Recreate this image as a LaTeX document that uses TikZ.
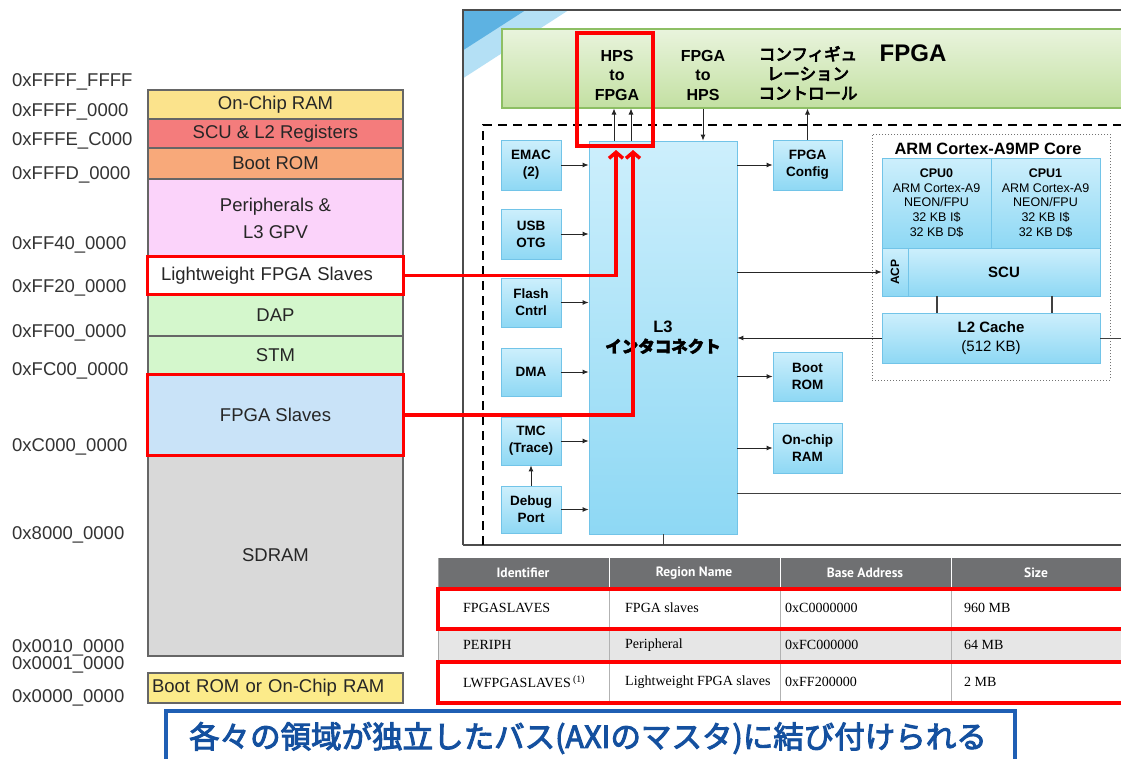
\documentclass[tikz,border=0pt]{standalone}
\usepackage{fontspec}
\setmainfont{Liberation Sans}
\newfontfamily\jpbold[FakeBold=2.6]{Noto Sans CJK JP}
\newfontfamily\jpheavy[FakeBold=3.2]{Noto Sans CJK JP}
\newfontfamily\jpbar[FakeBold=4.5]{Noto Sans CJK JP}
\newfontfamily\tabserif{Liberation Serif}
\newfontfamily\tabhead{PT Sans}
\usetikzlibrary{arrows.meta}
\definecolor{cOCR}{HTML}{FBE38C}
\definecolor{cSCU}{HTML}{F47C7C}
\definecolor{cBROM}{HTML}{F8A97A}
\definecolor{cPER}{HTML}{FBD3FA}
\definecolor{cDAP}{HTML}{D4F7CC}
\definecolor{cFS}{HTML}{C9E3F8}
\definecolor{cSD}{HTML}{D9D9D9}
\definecolor{cBS}{HTML}{FCEB8A}
\definecolor{boxtop}{HTML}{CDEFFC}
\definecolor{boxbot}{HTML}{8ED8F4}
\definecolor{boxedge}{HTML}{72C4E8}
\definecolor{barTop}{HTML}{E9F4DD}
\definecolor{barBot}{HTML}{C3E0A2}
\definecolor{barEdge}{HTML}{8DBF64}
\definecolor{hdrgray}{HTML}{6F7072}
\definecolor{rowgray}{HTML}{E6E6E6}
\definecolor{bannerBlue}{HTML}{1F5FB4}
\definecolor{bannerText}{HTML}{14509F}
\definecolor{cornerLight}{HTML}{B4E0F5}
\definecolor{cornerDark}{HTML}{5DB2E2}
\begin{document}
\begin{tikzpicture}[x=1pt,y=-1pt,
  mem/.style={draw=black!60, line width=1.1pt, inner sep=0pt, text=black!85,
    font=\fontsize{18.5}{27}\selectfont, align=center, minimum width=255},
  addr/.style={anchor=west, inner sep=0pt, text=black!80, font=\fontsize{18.5}{21}\selectfont},
  hl/.style={draw=red, line width=3.5pt},
  blk/.style={draw=boxedge, line width=0.8pt, top color=boxtop, bottom color=boxbot,
    inner sep=0pt, align=center, font=\bfseries\fontsize{13.5}{17}\selectfont},
  arr/.style={draw=black!85, line width=0.9pt, -{Latex[length=6pt,width=5pt]}},
  plainln/.style={draw=black!75, line width=1pt},
  redarr/.style={draw=red, line width=3.5pt, -{Straight Barb[length=6pt,width=14pt]}},
  bartext/.style={inner sep=0pt, align=center, font=\bfseries\fontsize{16}{19.5}\selectfont},
  cell/.style={anchor=west, inner sep=0pt, font=\tabserif\fontsize{14}{16}\selectfont, text=black},
  head/.style={inner sep=0pt, text=white, font=\tabhead\bfseries\fontsize{13.5}{16}\selectfont},
  cpu/.style={blk, font=\fontsize{12.5}{14.8}\selectfont, minimum width=109, minimum height=90},
]
\useasboundingbox (0,0) rectangle (1121,758);
\clip (0,0) rectangle (1121,758);
\fill[white] (0,0) rectangle (1121,758);

% ---------------- memory map ----------------
\node[addr] (a1) at (12,82) {0xFFFF\_FFFF};
\node[addr] (a2) at (12,112) {0xFFFF\_0000};
\node[addr] (a3) at (12,141) {0xFFFE\_C000};
\node[addr] (a4) at (12,175) {0xFFFD\_0000};
\node[addr] (a5) at (12,245) {0xFF40\_0000};
\node[addr] (a6) at (12,288) {0xFF20\_0000};
\node[addr] (a7) at (12,333) {0xFF00\_0000};
\node[addr] (a8) at (12,371) {0xFC00\_0000};
\node[addr] (a9) at (12,447) {0xC000\_0000};
\node[addr] (a10) at (12,535) {0x8000\_0000};
\node[addr] (a11) at (12,648) {0x0010\_0000};
\node[addr] (a12) at (12,665) {0x0001\_0000};
\node[addr] (a13) at (12,698) {0x0000\_0000};

\node[mem, fill=cOCR, minimum height=29] (ocram) at (275.5,104.5) {On-Chip RAM};
\node[mem, fill=cSCU, minimum height=29] (scuregs) at (275.5,133.5) {SCU \& L2 Registers};
\node[mem, fill=cBROM, minimum height=31] (brom) at (275.5,163.5) {Boot ROM};
\node[mem, fill=cPER, minimum height=78] (periph) at (275.5,218) {Peripherals \&\\L3 GPV};
\node[mem, fill=white, minimum height=37, text width=229, inner xsep=13, align=left] (lw) at (275.5,275.5) {Lightweight FPGA Slaves};
\node[mem, fill=cDAP, minimum height=42] (dap) at (275.5,315) {DAP};
\node[mem, fill=cDAP, minimum height=39] (stm) at (275.5,355.5) {STM};
\node[mem, fill=cFS, minimum height=80] (fpgas) at (275.5,415) {FPGA Slaves};
\node[mem, fill=cSD, minimum height=201] (sdram) at (275.5,555.5) {SDRAM};
\node[mem, fill=cBS, minimum height=30, text width=247, inner xsep=4, align=left] (bootsel) at (275.5,688) {Boot ROM or On-Chip RAM};

\draw[hl] (lw.north west) rectangle (lw.south east);
\draw[hl] (fpgas.north west) rectangle (fpgas.south east);

% ---------------- block diagram frame ----------------
\fill[cornerLight] (463.5,10.5) -- (568,10.5) -- (463.5,78) -- cycle;
\fill[cornerDark] (463.5,10.5) -- (525,10.5) -- (463.5,50) -- cycle;
\draw[black!70, line width=1.2pt] (463,545) -- (463,10) -- (1130,10);
\draw[black!70, line width=1.2pt] (463,545) -- (1130,545);

\node[draw=barEdge, line width=1.5pt, top color=barTop, bottom color=barBot,
  minimum width=640, minimum height=79, inner sep=0pt, anchor=north west] (fpgabar) at (501,28) {};
\node[bartext] (h2f) at (617,75) {HPS\\to\\FPGA};
\node[bartext] (f2h) at (703,75) {FPGA\\to\\HPS};
\node[bartext, font=\fontsize{16.5}{19.5}\selectfont] (cfgc) at (808,73)
  {{\jpbar コンフィギュ}\\{\jpbar レーション}\\{\jpbar コントロール}};
\node[bartext, font=\bfseries\fontsize{24}{28}\selectfont] (fpgat) at (913,53) {FPGA};

\draw[black, line width=1.6pt, dash pattern=on 9pt off 6pt] (483,545) -- (483,125) -- (1130,125);

% left column
\node[blk, minimum width=60, minimum height=50] (emac) at (531,165) {EMAC\\(2)};
\node[blk, minimum width=60, minimum height=50] (usb) at (531,234) {USB\\OTG};
\node[blk, minimum width=60, minimum height=49] (flash) at (531,302.5) {Flash\\Cntrl};
\node[blk, minimum width=60, minimum height=48] (dma) at (531,372) {DMA};
\node[blk, minimum width=60, minimum height=48] (tmc) at (531,441) {TMC\\(Trace)};
\node[blk, minimum width=60, minimum height=47] (debug) at (531,509.5) {Debug\\Port};

% L3
\node[blk, minimum width=148, minimum height=393, font=\bfseries\fontsize{16.5}{20}\selectfont] (l3) at (663,337.5) {L3\\{\jpbold インタコネクト}};

% right column
\node[blk, minimum width=69, minimum height=50] (fpgacfg) at (807.5,165) {FPGA\\Config};
\node[blk, minimum width=69, minimum height=49] (bootrom) at (807.5,376.5) {Boot\\ROM};
\node[blk, minimum width=69, minimum height=50] (ocram2) at (807.5,448) {On-chip\\RAM};

% ARM core
\node[draw=black!55, dotted, line width=1pt, minimum width=238, minimum height=246, inner sep=0pt] (arm) at (991,257) {};
\node[inner sep=0pt, font=\bfseries\fontsize{16.4}{19}\selectfont] (armt) at (988,149) {ARM Cortex-A9MP Core};
\node[cpu] (cpu0) at (936.5,203) {\textbf{CPU0}\\ARM Cortex-A9\\NEON/FPU\\32 KB I\$\\32 KB D\$};
\node[cpu] (cpu1) at (1045.5,203) {\textbf{CPU1}\\ARM Cortex-A9\\NEON/FPU\\32 KB I\$\\32 KB D\$};
\node[blk, minimum width=26, minimum height=48] (acp) at (895,272) {};
\node[rotate=90, inner sep=0pt, font=\bfseries\fontsize{12}{14}\selectfont] (acplbl) at (acp.center) {ACP};
\node[blk, minimum width=192, minimum height=48, font=\bfseries\fontsize{15}{18}\selectfont] (scu) at (1004,272) {SCU};
\node[blk, minimum width=218, minimum height=50, font=\fontsize{15}{19}\selectfont] (l2) at (991,338) {\textbf{L2 Cache}\\(512 KB)};

% connectors
\foreach \n in {emac,usb,flash,dma,tmc,debug}
  \draw[arr] (\n.east) -- (\n.east -| l3.west);
\draw[arr] (debug.north) -- (tmc.south);
\draw[arr] (l3.east |- fpgacfg.west) -- (fpgacfg.west);
\draw[arr] (l3.east |- bootrom.west) -- (bootrom.west);
\draw[arr] (l3.east |- ocram2.west) -- (ocram2.west);

\coordinate (u1) at (614,0);
\coordinate (u2) at (631,0);
\coordinate (d1) at (703,0);
\draw[arr] (l3.north -| u1) -- (fpgabar.south -| u1);
\draw[arr] (l3.north -| u2) -- (fpgabar.south -| u2);
\draw[arr] (fpgabar.south -| d1) -- (l3.north -| d1);
\draw[arr] (fpgacfg.north) -- (fpgacfg.north |- fpgabar.south);

\draw[arr] (l3.east |- acp.west) -- (acp.west);
\draw[arr] (l2.west) -- (l2.west -| l3.east);
\coordinate (v1) at (937,0);
\coordinate (v2) at (1052,0);
\draw[plainln, line width=1.5pt] (scu.south -| v1) -- (l2.north -| v1);
\draw[plainln, line width=1.5pt] (scu.south -| v2) -- (l2.north -| v2);
\coordinate (edge) at (1130,0);
\draw[plainln] (l2.east) -- (l2.east -| edge);
\coordinate (e493) at (1130,493);
\draw[plainln] (l3.east |- e493) -- (e493);
\coordinate (e545) at (0,545);
\draw[plainln] (l3.south) -- (l3.south |- e545);

% highlight box HPS to FPGA and red connectors
\draw[hl] (577,33) rectangle (653,146);
\coordinate (r1) at (616,150);
\coordinate (r2) at (633,150);
\draw[redarr] (lw.east) -| (r1);
\draw[redarr] (fpgas.east) -| (r2);

% ---------------- table ----------------
\fill[hdrgray] (438,558) rectangle (1130,588);
\fill[rowgray] (438,629) rectangle (1130,660);
\draw[black!35, line width=0.8pt] (438,558) -- (438,703) -- (1130,703);
\draw[black!35, line width=0.8pt] (438,629) -- (1130,629) (438,660) -- (1130,660);
\foreach \x in {609,780,951} {
  \draw[white, line width=1pt] (\x,558) -- (\x,588);
  \draw[black!30, line width=1pt] (\x,588) -- (\x,703);
}
\node[head] (th1) at (523,573) {Identifier};
\node[head] (th2) at (694,573) {Region Name};
\node[head] (th3) at (865,573) {Base Address};
\node[head] (th4) at (1036,573) {Size};

\node[cell] (c11) at (463,608) {FPGASLAVES};
\node[cell] (c12) at (625,608) {FPGA slaves};
\node[cell] (c13) at (785,608) {0xC0000000};
\node[cell] (c14) at (964,608) {960 MB};
\node[cell] (c21) at (463,645) {PERIPH};
\node[cell] (c22) at (625,645) {Peripheral};
\node[cell] (c23) at (785,645) {0xFC000000};
\node[cell] (c24) at (964,645) {64 MB};
\node[cell] (c31) at (463,682) {LWFPGASLAVES\,\textsuperscript{(1)}};
\node[cell] (c32) at (625,682) {Lightweight FPGA slaves};
\node[cell] (c33) at (785,682) {0xFF200000};
\node[cell] (c34) at (964,682) {2 MB};

\draw[hl] (438,589) rectangle (1135,629);
\draw[hl] (438,662) rectangle (1135,703);

% ---------------- banner ----------------
\node[draw=bannerBlue, line width=3.5pt, fill=white, minimum width=849, minimum height=70,
  inner sep=0pt, anchor=north west] (banner) at (164,709) {};
\node[inner sep=0pt, text=bannerText, font=\jpheavy\fontsize{30.5}{33}\selectfont] (bantext) at (588,738)
  {各々の領域が独立したバス(AXIのマスタ)に結び付けられる};
\end{tikzpicture}
\end{document}
